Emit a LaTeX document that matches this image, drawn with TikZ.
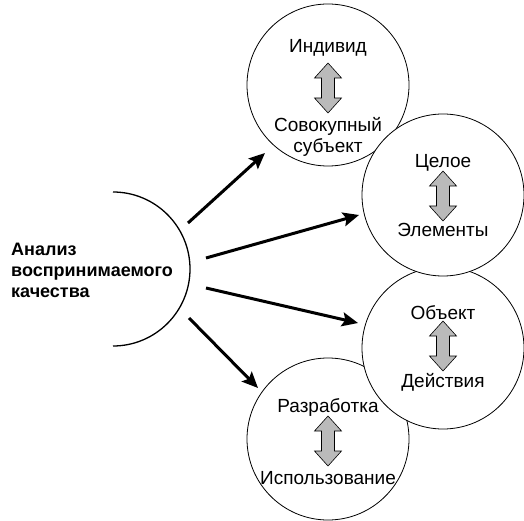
\documentclass[tikz,border=0pt]{standalone}
\usepackage{fontspec}
\setmainfont{Liberation Sans}
\usetikzlibrary{arrows.meta}
\begin{document}
\begin{tikzpicture}[x=1pt,y=-1pt,
  bubble/.style={circle,draw=black,line width=0.8pt,fill=white,minimum size=162pt,inner sep=0pt},
  lbl/.style={font=\fontsize{19}{21}\selectfont,align=center,inner sep=0pt},
  dblarr/.pic={\path[draw=black,line width=0.6pt,fill=black!27]
    (0,-25) -- (13.5,-10) -- (6.5,-10) -- (6.5,10) -- (13.5,10) -- (0,25)
    -- (-13.5,10) -- (-6.5,10) -- (-6.5,-10) -- (-13.5,-10) -- cycle;},
  conn/.style={line width=3pt,-{Stealth[length=16pt,width=14pt,inset=3pt]}}]
\useasboundingbox (0,0) rectangle (524,521);
% circles, drawn in stacking order
\node[bubble] (ind) at (328,85) {};
\node[bubble] (raz) at (328,439) {};
\node[bubble] (obj) at (443,348) {};
\node[bubble] (cel) at (443,195) {};
% texts and double arrows
\node[lbl] (t1a) at (328,48) {Индивид};
\pic at (328,88) {dblarr};
\node[lbl] (t1b) at (328,137) {Совокупный\\субъект};
\node[lbl] (t2a) at (443,163) {Целое};
\pic at (443,196) {dblarr};
\node[lbl] (t2b) at (443,230) {Элементы};
\node[lbl] (t3a) at (443,313) {Объект};
\pic at (443,346) {dblarr};
\node[lbl] (t3b) at (443,382) {Действия};
\node[lbl] (t4a) at (328,408) {Разработка};
\pic at (328,441) {dblarr};
\node[lbl] (t4b) at (328,478) {Использование};
% main half circle
\coordinate (mc) at (113,269);
\draw[line width=1.3pt] (113,192) arc[start angle=-90,end angle=90,radius=77];
\node[anchor=west,align=left,inner sep=0pt,font=\fontsize{18}{21}\selectfont\bfseries] (main) at (11,270) {Анализ\\воспринимаемого\\качества};
% connectors
\coordinate (s1) at (188,223); \coordinate (e1) at (265,153);
\coordinate (s2) at (206,258); \coordinate (e2) at (359,215);
\coordinate (s3) at (206,288); \coordinate (e3) at (358,323);
\coordinate (s4) at (189,318); \coordinate (e4) at (258,388);
\draw[conn] (s1) -- (e1);
\draw[conn] (s2) -- (e2);
\draw[conn] (s3) -- (e3);
\draw[conn] (s4) -- (e4);
\end{tikzpicture}
\end{document}
